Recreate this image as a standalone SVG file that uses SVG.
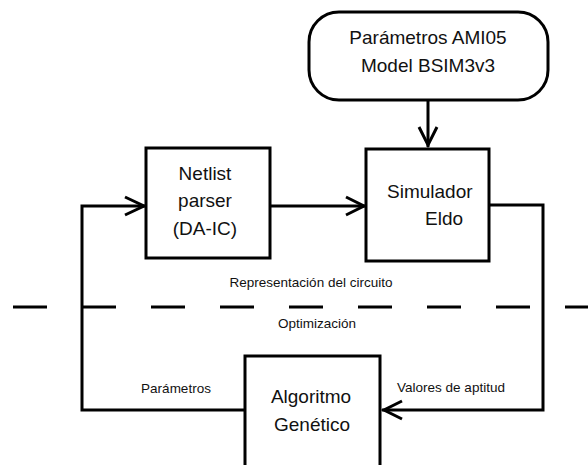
<svg xmlns="http://www.w3.org/2000/svg" width="588" height="465" viewBox="0 0 588 465">
<defs>
<style>
.box{fill:#fff;stroke:#000;stroke-width:3}
.ln{fill:none;stroke:#000;stroke-width:3}
.big{font-family:"Liberation Sans",Arial,sans-serif;font-size:19px;fill:#111}
.sm{font-family:"Liberation Sans",Arial,sans-serif;font-size:13.5px;fill:#111}
</style>
</defs>
<rect width="588" height="465" fill="#fff"/>
<g id="connectors">
<line class="ln" x1="13" y1="307" x2="588" y2="307" stroke-dasharray="34 35"/>
<path class="ln" d="M428 100 V147"/>
<path class="ln" d="M419 127 L428 145 L437 127"/>
<path class="ln" d="M270 206 H365"/>
<path class="ln" d="M346 197 L364 206 L346 215"/>
<path class="ln" d="M245 410 H82 V206 H145"/>
<path class="ln" d="M125 197 L144 206 L125 215"/>
<path class="ln" d="M489 205 H543 V410 H382"/>
<path class="ln" d="M402 401 L384 410 L402 419"/>
<text class="sm" x="311" y="287" text-anchor="middle">Representación del circuito</text>
<text class="sm" x="317" y="328" text-anchor="middle">Optimización</text>
<text class="sm" x="176" y="393" text-anchor="middle">Parámetros</text>
<text class="sm" x="451" y="392" text-anchor="middle">Valores de aptitud</text>
</g>
<g id="params">
<rect class="box" x="309" y="12" width="239" height="88" rx="30" ry="30"/>
<text class="big" x="428" y="44" text-anchor="middle">Parámetros AMI05</text>
<text class="big" x="428" y="72" text-anchor="middle">Model BSIM3v3</text>
</g>
<g id="netlist">
<rect class="box" x="146" y="148" width="124" height="110"/>
<text class="big" x="205" y="180" text-anchor="middle">Netlist</text>
<text class="big" x="205" y="207" text-anchor="middle">parser</text>
<text class="big" x="205" y="235" text-anchor="middle">(DA-IC)</text>
</g>
<g id="simulador">
<rect class="box" x="366" y="149" width="123" height="112"/>
<text class="big" x="387" y="198">Simulador</text>
<text class="big" x="425" y="225">Eldo</text>
</g>
<g id="algoritmo">
<rect class="box" x="245" y="356" width="135" height="130"/>
<text class="big" x="311" y="403" text-anchor="middle">Algoritmo</text>
<text class="big" x="312" y="431" text-anchor="middle">Genético</text>
</g>
</svg>
